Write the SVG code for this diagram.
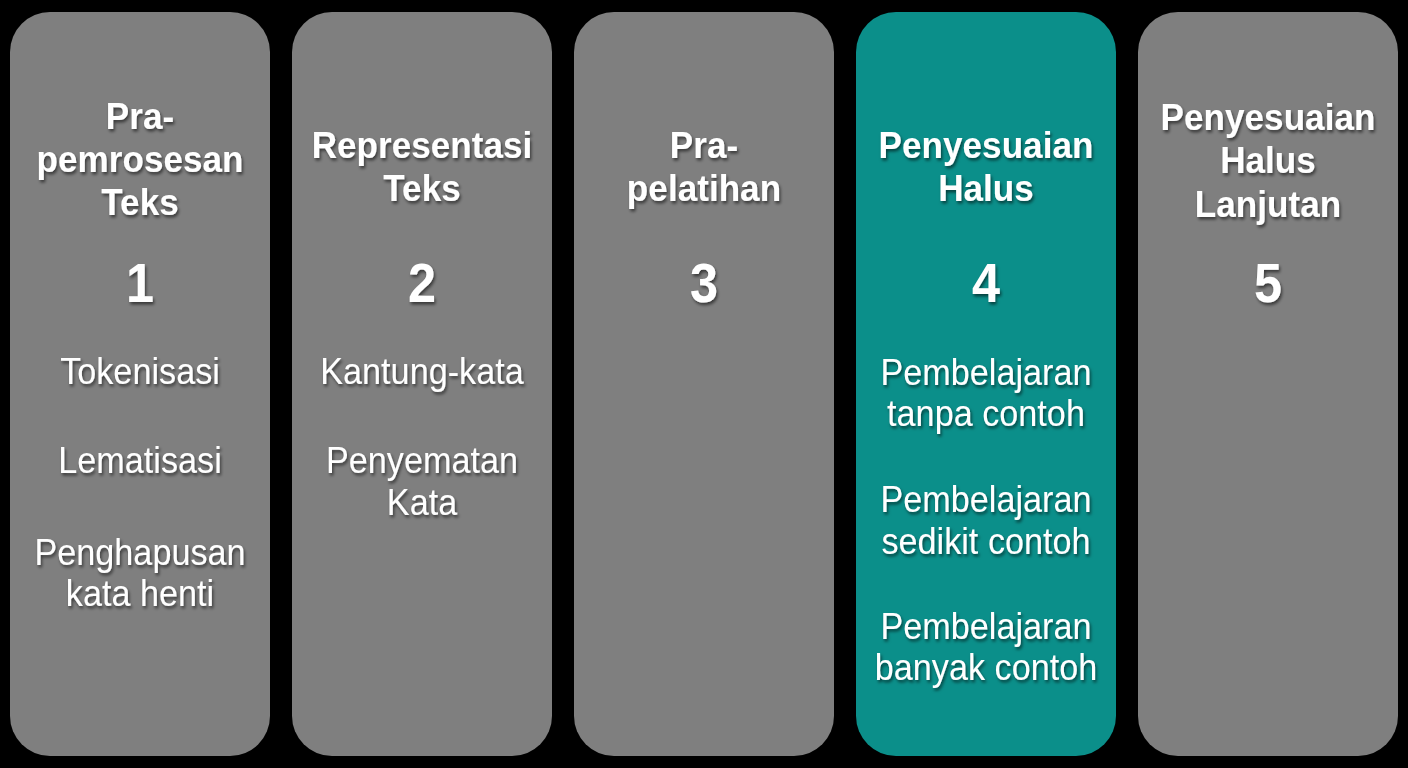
<svg xmlns="http://www.w3.org/2000/svg" width="1408" height="768" viewBox="0 0 1408 768">
<defs>
<filter id="ts" x="-10%" y="-30%" width="120%" height="160%">
<feDropShadow dx="1.5" dy="2.5" stdDeviation="1.5" flood-color="#000" flood-opacity="0.55"/>
</filter>
</defs>
<style>
.box{fill:#7f7f7f}
.hl{fill:#0b8f8a}
text{fill:#ffffff;font-family:"Liberation Sans",Arial,sans-serif;text-anchor:middle;filter:url(#ts)}
.t{font-weight:bold;font-size:37px}
.n{font-weight:bold;font-size:56px}
.b{font-size:37px}
</style>
<rect width="1408" height="768" fill="#000"/>
<g id="connectors"/>
<g id="node1">
<rect class="box" x="10" y="12" width="260" height="744" rx="40"/>
<g transform="translate(140 0) scale(0.95 1)">
<text class="t" x="0" y="129">Pra-</text>
<text class="t" x="0" y="172">pemrosesan</text>
<text class="t" x="0" y="215">Teks</text>
</g>
<g transform="translate(140 0) scale(0.9 1)"><text class="n" x="0" y="302">1</text></g>
<g transform="translate(140 0) scale(0.925 1)">
<text class="b" x="0" y="384">Tokenisasi</text>
<text class="b" x="0" y="473">Lematisasi</text>
<text class="b" x="0" y="565">Penghapusan</text>
<text class="b" x="0" y="606">kata henti</text>
</g>
</g>
<g id="node2">
<rect class="box" x="292" y="12" width="260" height="744" rx="40"/>
<g transform="translate(422 0) scale(0.95 1)">
<text class="t" x="0" y="158">Representasi</text>
<text class="t" x="0" y="201">Teks</text>
</g>
<g transform="translate(422 0) scale(0.9 1)"><text class="n" x="0" y="302">2</text></g>
<g transform="translate(422 0) scale(0.925 1)">
<text class="b" x="0" y="384">Kantung-kata</text>
<text class="b" x="0" y="473">Penyematan</text>
<text class="b" x="0" y="515">Kata</text>
</g>
</g>
<g id="node3">
<rect class="box" x="574" y="12" width="260" height="744" rx="40"/>
<g transform="translate(704 0) scale(0.95 1)">
<text class="t" x="0" y="158">Pra-</text>
<text class="t" x="0" y="201">pelatihan</text>
</g>
<g transform="translate(704 0) scale(0.9 1)"><text class="n" x="0" y="302">3</text></g>
</g>
<g id="node4">
<rect class="hl" x="856" y="12" width="260" height="744" rx="40"/>
<g transform="translate(986 0) scale(0.95 1)">
<text class="t" x="0" y="158">Penyesuaian</text>
<text class="t" x="0" y="201">Halus</text>
</g>
<g transform="translate(986 0) scale(0.9 1)"><text class="n" x="0" y="302">4</text></g>
<g transform="translate(986 0) scale(0.925 1)">
<text class="b" x="0" y="385">Pembelajaran</text>
<text class="b" x="0" y="426">tanpa contoh</text>
<text class="b" x="0" y="512">Pembelajaran</text>
<text class="b" x="0" y="554">sedikit contoh</text>
<text class="b" x="0" y="639">Pembelajaran</text>
<text class="b" x="0" y="680">banyak contoh</text>
</g>
</g>
<g id="node5">
<rect class="box" x="1138" y="12" width="260" height="744" rx="40"/>
<g transform="translate(1268 0) scale(0.95 1)">
<text class="t" x="0" y="130">Penyesuaian</text>
<text class="t" x="0" y="173">Halus</text>
<text class="t" x="0" y="217">Lanjutan</text>
</g>
<g transform="translate(1268 0) scale(0.9 1)"><text class="n" x="0" y="302">5</text></g>
</g>
</svg>
